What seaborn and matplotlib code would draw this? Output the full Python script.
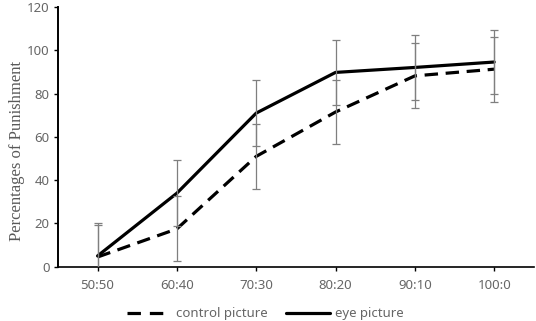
import pandas as pd
import matplotlib
matplotlib.use('Agg')
import matplotlib.pyplot as plt
import seaborn as sns
from matplotlib.lines import Line2D

# data
ratios = ['50:50', '60:40', '70:30', '80:20', '90:10', '100:0']
control_pct = [4.5, 17.5, 51, 71.5, 88.2, 91.3]
eye_pct = [5, 34, 71, 89.8, 92.1, 94.6]
control_err = [15, 15, 15, 15, 15, 15]
eye_err = [15, 15.3, 15.3, 15, 15.2, 15]

df = pd.DataFrame({
    'ratio': ratios * 2,
    'pct': control_pct + eye_pct,
    'condition': ['control picture'] * 6 + ['eye picture'] * 6,
})

sns.set_style('white')
plt.rcParams['font.family'] = ['Noto Sans', 'DejaVu Sans']

fig, ax = plt.subplots(figsize=(5.36, 3.21), dpi=100)
fig.subplots_adjust(left=0.108, right=0.996, top=0.978, bottom=0.169)

sns.lineplot(data=df, x='ratio', y='pct', hue='condition', style='condition',
             palette={'control picture': 'black', 'eye picture': 'black'},
             dashes={'control picture': (4.2, 2.4), 'eye picture': ''},
             linewidth=2.3, sort=False, legend=False, ax=ax)

ax.errorbar(ratios, control_pct, yerr=control_err, fmt='none', ecolor='#7f7f7f',
            elinewidth=0.9, capsize=2.6, capthick=0.9, zorder=3)
ax.errorbar(ratios, eye_pct, yerr=eye_err, fmt='none', ecolor='#7f7f7f',
            elinewidth=0.9, capsize=2.6, capthick=0.9, zorder=3)

ax.set_xlim(-0.5, 5.5)
ax.set_ylim(0, 120)
ax.set_yticks(range(0, 121, 20))
ax.set_xlabel('')
ax.set_ylabel('Percentages of Punishment', family='Liberation Serif',
              fontsize=12, color='#595959')
ax.yaxis.set_label_coords(-0.07, 0.445)

for s in ['top', 'right']:
    ax.spines[s].set_visible(False)
ax.spines['left'].set_color('black')
ax.spines['left'].set_linewidth(1.4)
ax.spines['bottom'].set_color('black')
ax.spines['bottom'].set_linewidth(1.2)
ax.tick_params(axis='both', which='major', labelsize=9.5, labelcolor='#666666',
               length=3, width=1, color='black', direction='out',
               left=True, bottom=True)
ax.tick_params(axis='y', pad=3)
ax.tick_params(axis='x', pad=6)
ax.grid(False)

handles = [
    Line2D([], [], color='black', lw=2.3, dashes=(4.2, 2.8)),
    Line2D([], [], color='black', lw=2.3),
]
fig.legend(handles, ['control picture', 'eye picture'], loc='lower center',
           bbox_to_anchor=(0.495, -0.035), ncol=2, frameon=False, fontsize=9.5,
           handlelength=3.3, handletextpad=0.4, columnspacing=1.4,
           labelcolor='#666666')

plt.savefig('out.png', dpi=100, facecolor='w')
